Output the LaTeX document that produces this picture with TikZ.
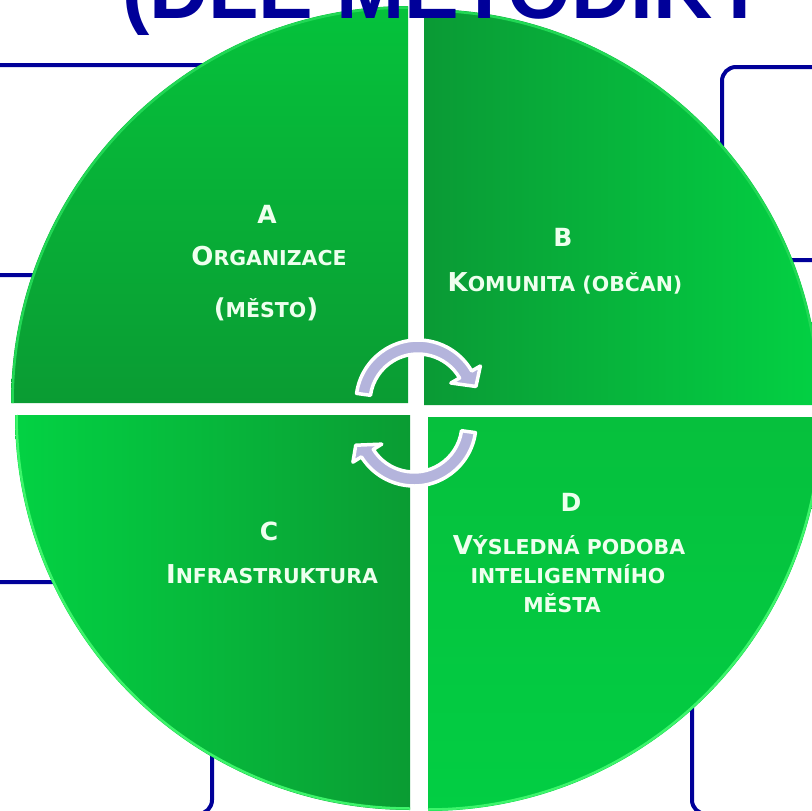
\documentclass[tikz,border=0pt]{standalone}
\usepackage{fontspec}
\setmainfont{DejaVu Sans}
\newfontfamily\titlefont{Liberation Sans}
\definecolor{navy}{HTML}{000099}
\definecolor{gAa}{HTML}{05C23B}
\definecolor{gAb}{HTML}{0A9C33}
\definecolor{gBa}{HTML}{0A9A35}
\definecolor{gBb}{HTML}{03D143}
\definecolor{gCa}{HTML}{03D243}
\definecolor{gCb}{HTML}{0A9C33}
\definecolor{gDa}{HTML}{06C03D}
\definecolor{gDb}{HTML}{02CE43}
\definecolor{rimlight}{HTML}{3DF56B}
\definecolor{rimsoft}{HTML}{22D855}
\definecolor{lav}{HTML}{B4B4DC}
\definecolor{txtc}{HTML}{EEFFEE}
\tikzset{
  qlabel/.style={text=txtc, font=\bfseries\fontsize{20.5}{24}\selectfont, inner sep=0pt, anchor=base},
  qletter/.style={text=txtc, font=\bfseries\fontsize{25}{28}\selectfont, inner sep=0pt, anchor=base},
  boxline/.style={draw=navy, line width=4pt, rounded corners=14pt},
  cyclearrow/.style={fill=lav, draw=white, line width=3.5pt, line join=round},
  rim/.style={line width=2.5pt},
  titletext/.style={text=navy, font=\titlefont\bfseries\fontsize{82}{90}\selectfont, inner sep=0pt, anchor=base west},
}
\newcommand\capini[1]{{\fontsize{26}{28}\selectfont #1}}
\begin{document}
\begin{tikzpicture}[x=1pt,y=1pt]
\useasboundingbox (0,0) rectangle (812,-811);
\fill[white] (0,0) rectangle (812,-811);
% background boxes
\draw[boxline] (-30,-65) rectangle (300,-275);
\draw[boxline] (722,-67) rectangle (860,-260);
\draw[boxline] (-30,-582) rectangle (212,-814);
\draw[boxline] (692,-450) rectangle (860,-814);
% quadrants
\shade[top color=gAa, bottom color=gAb] (408,-403) -- (11,-403) arc[start angle=180, end angle=90, radius=397] -- cycle;
\shade[left color=gBa, right color=gBb] (424,-405) -- (424,-9) arc[start angle=90, end angle=0, radius=396] -- cycle;
\shade[left color=gCa, right color=gCb] (410,-415) -- (15,-415) arc[start angle=180, end angle=270, radius=395] -- cycle;
\shade[top color=gDa, bottom color=gDb] (428,-417) -- (822,-417) arc[start angle=0, end angle=-90, radius=394] -- cycle;
% rims
\draw[rim, draw=rimsoft] (12.5,-403) arc[start angle=180, end angle=90, radius=395.5];
\draw[rim, draw=rimsoft] (424,-10.5) arc[start angle=90, end angle=0, radius=394.5];
\draw[rim, draw=rimlight] (16.5,-415) arc[start angle=180, end angle=270, radius=393.5];
\draw[rim, draw=rimlight] (820.5,-417) arc[start angle=0, end angle=-90, radius=392.5];
% cycle arrows
\begin{scope}[shift={(418,-402)}]
\filldraw[cyclearrow] (172:62) arc[start angle=172, end angle=30, radius=62] -- (30:72) -- (15:60) -- (30:38) -- (30:48) arc[start angle=30, end angle=172, radius=48] -- cycle;
\end{scope}
\begin{scope}[shift={(414,-424)}]
\filldraw[cyclearrow] (-8:62) arc[start angle=-8, end angle=-148, radius=62] -- (-148:72) -- (-160:62) -- (-148:38) -- (-148:48) arc[start angle=-148, end angle=-8, radius=48] -- cycle;
\end{scope}
% labels A
\node[qletter] (la) at (267,-223) {A};
\node[qlabel] (orga) at (269,-265) {\capini{O}RGANIZACE};
\node[qlabel] (mestoa) at (266,-317) {\capini{(}MĚSTO\capini{)}};
% labels B
\node[qletter] (lb) at (563,-246) {B};
\node[qlabel] (komb) at (565,-291) {\capini{K}OMUNITA (OBČAN)};
% labels C
\node[qletter] (lc) at (269,-540) {C};
\node[qlabel] (infc) at (272,-583) {\capini{I}NFRASTRUKTURA};
% labels D
\node[qletter] (ld) at (571,-511) {D};
\node[qlabel] (vysd) at (569,-554) {\capini{V}ÝSLEDNÁ PODOBA};
\node[qlabel] (inted) at (568,-583) {INTELIGENTNÍHO};
\node[qlabel] (mestod) at (562,-612) {MĚSTA};
% title
\node[titletext] (title) at (122,-19) {(DLE METODIKY};
\end{tikzpicture}
\end{document}
